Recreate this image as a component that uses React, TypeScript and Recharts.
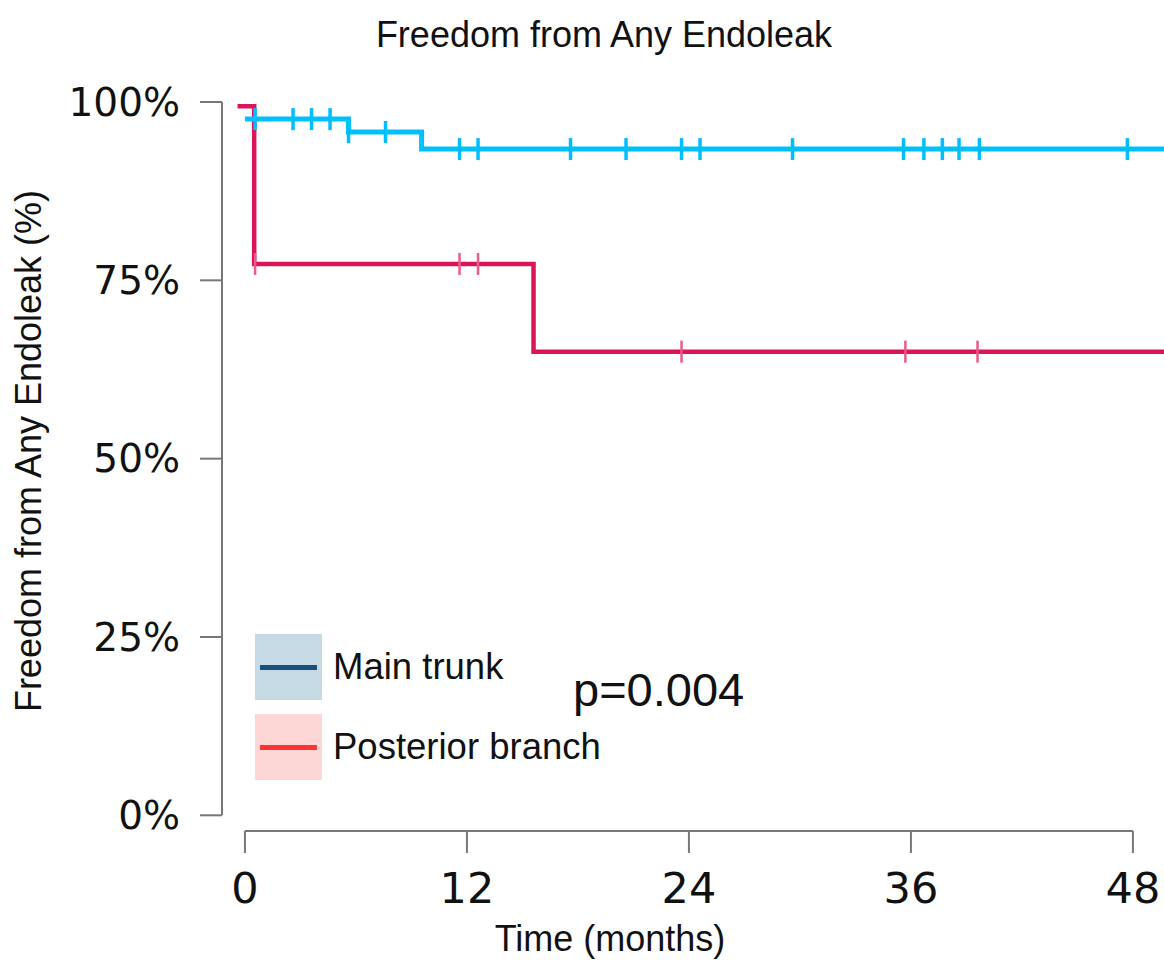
import { ComposedChart, Line, Scatter, XAxis, YAxis, ReferenceLine, Legend } from 'recharts';

// axes
const X_TICKS = [0, 12, 24, 36, 48];
const Y_TICKS = [0, 25, 50, 75, 100];
const X_DOMAIN: [number, number] = [-1.24, 49.68];
const Y_DOMAIN: [number, number] = [-2.2, 100];

// Kaplan-Meier steps (months, % free from endoleak)
const TRUNK_TIME = [0, 5.6, 9.55, 49.68];
const TRUNK_SURV = [97.6, 95.8, 93.4, 93.4];
const POST_TIME = [-0.4, 0.5, 15.6, 49.68];
const POST_SURV = [99.4, 77.3, 65.0, 65.0];

// censored patients
const TRUNK_CENS_TIME = [0.55, 2.6, 3.6, 4.6, 5.6, 7.6, 11.6, 12.6, 17.6, 20.6, 23.6, 24.6, 29.6, 35.6, 36.7, 37.7, 38.6, 39.7, 47.7];
const TRUNK_CENS_SURV = [97.6, 97.6, 97.6, 97.6, 95.8, 95.8, 93.4, 93.4, 93.4, 93.4, 93.4, 93.4, 93.4, 93.4, 93.4, 93.4, 93.4, 93.4, 93.4];
const POST_CENS_TIME = [0.55, 11.6, 12.6, 23.6, 35.7, 39.6];
const POST_CENS_SURV = [77.3, 77.3, 77.3, 65.0, 65.0, 65.0];

const LEGEND_LABELS = ['Main trunk', 'Posterior branch'];
const LEGEND_LINE = ['#1B4F7B', '#FF3535'];
const LEGEND_BOX = ['#C6DAE5', '#FDD6D6'];

const TRUNK_COLOR = '#00BFFF';
const POST_COLOR = '#DC1458';
const AXIS_COLOR = '#777';
const TEXT_FONT = '"Liberation Sans", Arial, sans-serif';
const TICK_FONT = '"DejaVu Sans", sans-serif';

const zip = (t: number[], s: number[]) => t.map((v, i) => ({ t: v, s: s[i] }));

const trunkData = zip(TRUNK_TIME, TRUNK_SURV);
const postData = zip(POST_TIME, POST_SURV);
const trunkCens = zip(TRUNK_CENS_TIME, TRUNK_CENS_SURV);
const postCens = zip(POST_CENS_TIME, POST_CENS_SURV);

const censorMark = (color: string, w: number) => (p: any) => (
  <line x1={p.cx} x2={p.cx} y1={p.cy - 11} y2={p.cy + 11} stroke={color} strokeWidth={w} />
);

function LegendBox() {
  return (
    <div style={{ fontFamily: TEXT_FONT }}>
      {LEGEND_LABELS.map((label, i) => (
        <div key={label} style={{ display: 'flex', alignItems: 'center', marginBottom: 14 }}>
          <div
            style={{
              width: 67,
              height: 66,
              background: LEGEND_BOX[i],
              display: 'flex',
              alignItems: 'center',
              justifyContent: 'center',
            }}
          >
            <div style={{ width: 57, height: 5, background: LEGEND_LINE[i] }} />
          </div>
          <span style={{ fontSize: 36.5, color: '#111', marginLeft: 11, lineHeight: '36px' }}>{label}</span>
        </div>
      ))}
    </div>
  );
}

export default function App() {
  return (
    <div style={{ position: 'absolute', left: 0, top: 0, width: 1164, height: 960, background: '#fff' }}>
      <ComposedChart width={1164} height={960} margin={{ top: 102, right: 0, bottom: 0, left: 0 }}>
        <XAxis
          dataKey="t"
          type="number"
          domain={X_DOMAIN}
          ticks={X_TICKS}
          interval={0}
          axisLine={false}
          tickLine={{ stroke: AXIS_COLOR, strokeWidth: 2 }}
          tickSize={22}
          tickMargin={19}
          height={129}
          tick={{ fontSize: 43, fill: '#111', fontFamily: TICK_FONT }}
        />
        <YAxis
          dataKey="s"
          type="number"
          domain={Y_DOMAIN}
          ticks={Y_TICKS}
          interval={0}
          width={222}
          axisLine={false}
          tickLine={{ stroke: AXIS_COLOR, strokeWidth: 2 }}
          tickSize={22}
          tickMargin={20}
          tickFormatter={(v) => `${v}%`}
          tick={{ fontSize: 39, fill: '#111', fontFamily: TICK_FONT }}
        />
        <ReferenceLine
          segment={[{ x: X_DOMAIN[0], y: 0 }, { x: X_DOMAIN[0], y: 100 }]}
          stroke={AXIS_COLOR}
          strokeWidth={2}
          ifOverflow="visible"
        />
        <ReferenceLine
          segment={[{ x: 0, y: Y_DOMAIN[0] }, { x: 48, y: Y_DOMAIN[0] }]}
          stroke={AXIS_COLOR}
          strokeWidth={2}
          ifOverflow="visible"
        />
        <Line
          data={postData}
          dataKey="s"
          type="stepAfter"
          stroke={POST_COLOR}
          strokeWidth={4.5}
          dot={false}
          isAnimationActive={false}
        />
        <Scatter data={postCens} dataKey="s" shape={censorMark('#EC5A8A', 2.5)} isAnimationActive={false} />
        <Line
          data={trunkData}
          dataKey="s"
          type="stepAfter"
          stroke={TRUNK_COLOR}
          strokeWidth={5}
          dot={false}
          isAnimationActive={false}
        />
        <Scatter data={trunkCens} dataKey="s" shape={censorMark(TRUNK_COLOR, 3.5)} isAnimationActive={false} />
        <Legend
          layout="horizontal"
          verticalAlign="middle"
          align="center"
          content={() => <LegendBox />}
          wrapperStyle={{ left: 255, top: 634, width: 'auto', height: 'auto' }}
        />
      </ComposedChart>
      <svg
        width={1164}
        height={960}
        style={{ position: 'absolute', left: 0, top: 0, pointerEvents: 'none' }}
        fontFamily={TEXT_FONT}
        fill="#111"
      >
        <text x={604} y={47} textAnchor="middle" fontSize={36}>
          Freedom from Any Endoleak
        </text>
        <text transform="translate(41, 451) rotate(-90)" textAnchor="middle" fontSize={36}>
          Freedom from Any Endoleak (%)
        </text>
        <text x={610} y={951} textAnchor="middle" fontSize={36}>
          Time (months)
        </text>
        <text x={573} y={706} fontSize={47}>
          p=0.004
        </text>
      </svg>
    </div>
  );
}
